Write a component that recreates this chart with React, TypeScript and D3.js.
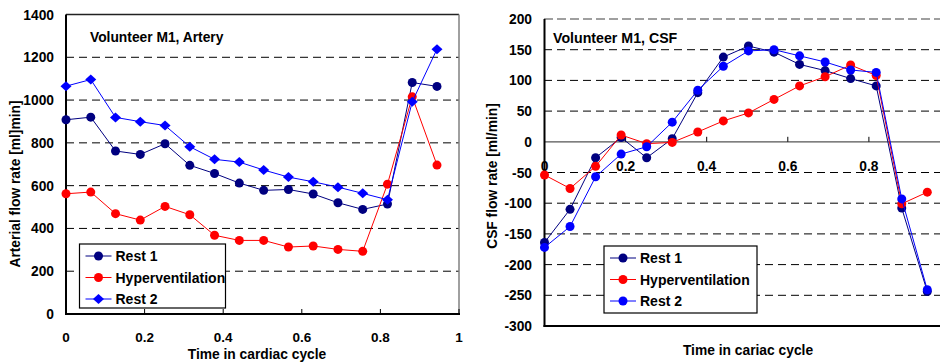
import React, { useEffect, useRef } from "react";
import * as d3 from "d3";

// time points (fraction of cardiac cycle), same for both panels
const timePoints = [0, 0.063, 0.126, 0.189, 0.252, 0.315, 0.378, 0.441, 0.503, 0.566, 0.629, 0.692, 0.755, 0.818, 0.881, 0.944];

const seriesNames = ["Rest 1", "Hyperventilation", "Rest 2"];

// arterial flow [ml/min]
const arteryRest1 = [908, 920, 762, 746, 796, 695, 657, 612, 578, 582, 561, 520, 489, 514, 1082, 1064];
const arteryHyper = [562, 570, 469, 439, 503, 464, 368, 344, 344, 313, 318, 302, 293, 607, 1015, 696];
const arteryRest2 = [1065, 1096, 919, 899, 881, 782, 723, 710, 673, 640, 618, 593, 564, 534, 992, 1238];

// CSF flow [ml/min]
const csfRest1 = [-164, -110, -26, 7, -26, 5, 80, 138, 156, 146, 126, 116, 103, 91, -108, -244];
const csfHyper = [-54, -76, -40, 11, -3, -1, 16, 34, 47, 69, 91, 106, 125, 108, -101, -82];
const csfRest2 = [-172, -138, -57, -20, -8, 32, 84, 123, 148, 150, 140, 130, 117, 113, -93, -241];

const arteryTicksY = [0, 200, 400, 600, 800, 1000, 1200, 1400];
const csfTicksY = [-300, -250, -200, -150, -100, -50, 0, 50, 100, 150, 200];
const ticksX = [0, 0.2, 0.4, 0.6, 0.8, 1];

const FONT = "Arial, 'Liberation Sans', sans-serif";
const colors = ["#000080", "#ff0000", "#0000ff"];

const App = () => {
  const ref = useRef<SVGSVGElement>(null);

  useEffect(() => {
    const svg = d3.select(ref.current);
    svg.selectAll("*").remove();

    const addMarker = (g, shape, x, y, color) => {
      if (shape === "diamond") {
        g.append("path")
          .attr("d", d3.symbol().type(d3.symbolDiamond2).size(64)())
          .attr("transform", `translate(${x},${y}) scale(1.1,1)`)
          .attr("fill", color);
      } else {
        g.append("circle").attr("cx", x).attr("cy", y).attr("r", 4.5).attr("fill", color);
      }
    };

    const drawSeries = (g, x, y, values, color, shape) => {
      const line = d3.line<number>().x((_, i) => x(timePoints[i])).y(d => y(d));
      g.append("path").attr("d", line(values)).attr("fill", "none").attr("stroke", color).attr("stroke-width", 1);
      values.forEach((v, i) => addMarker(g, shape, x(timePoints[i]), y(v), color));
    };

    const drawLegend = (g, left, top, w, h, shapes) => {
      g.append("rect").attr("x", left).attr("y", top).attr("width", w).attr("height", h)
        .attr("fill", "#fff").attr("stroke", "#000").attr("stroke-width", 1.2);
      seriesNames.forEach((name, i) => {
        const cy = top + 12 + i * 21.5;
        g.append("line").attr("x1", left + 6).attr("x2", left + 32).attr("y1", cy).attr("y2", cy)
          .attr("stroke", colors[i]).attr("stroke-width", 1);
        addMarker(g, shapes[i], left + 19, cy, colors[i]);
        g.append("text").attr("x", left + 36).attr("y", cy + 5).text(name)
          .attr("font-family", FONT).attr("font-weight", "bold").attr("font-size", 14);
      });
    };

    // ---------- Left panel: artery ----------
    {
      const g = svg.append("g");
      const x = d3.scaleLinear().domain([0, 1]).range([66, 459]);
      const y = d3.scaleLinear().domain([0, 1400]).range([314, 14.5]);

      arteryTicksY.slice(1, -1).forEach(t => {
        g.append("line").attr("x1", 66).attr("x2", 459).attr("y1", y(t)).attr("y2", y(t))
          .attr("stroke", "#000").attr("stroke-dasharray", "8,5").attr("stroke-width", 1);
      });
      g.append("line").attr("x1", 66).attr("x2", 459).attr("y1", y(1400)).attr("y2", y(1400)).attr("stroke", "#222").attr("stroke-width", 1.3);
      g.append("line").attr("x1", 459).attr("x2", 459).attr("y1", y(1400)).attr("y2", y(0)).attr("stroke", "#808080").attr("stroke-width", 1.5);
      g.append("line").attr("x1", 66).attr("x2", 66).attr("y1", y(1400)).attr("y2", y(0) + 1).attr("stroke", "#000").attr("stroke-width", 2);
      g.append("line").attr("x1", 65).attr("x2", 460).attr("y1", y(0)).attr("y2", y(0)).attr("stroke", "#000").attr("stroke-width", 2);

      ticksX.forEach(t => {
        g.append("line").attr("x1", x(t)).attr("x2", x(t)).attr("y1", y(0)).attr("y2", y(0) - 5).attr("stroke", "#000");
        g.append("text").attr("x", x(t)).attr("y", 342).attr("text-anchor", "middle").text(String(t))
          .attr("font-family", FONT).attr("font-weight", "bold").attr("font-size", 13.5);
      });
      arteryTicksY.forEach(t => {
        g.append("text").attr("x", 54).attr("y", y(t) + 5).attr("text-anchor", "end").text(String(t))
          .attr("font-family", FONT).attr("font-weight", "bold").attr("font-size", 13.8);
      });

      drawSeries(g, x, y, arteryRest1, colors[0], "circle");
      drawSeries(g, x, y, arteryHyper, colors[1], "circle");
      drawSeries(g, x, y, arteryRest2, colors[2], "diamond");

      g.append("text").attr("x", 90).attr("y", 42).text("Volunteer M1, Artery")
        .attr("font-family", FONT).attr("font-weight", "bold").attr("font-size", 13.8);
      g.append("text").attr("x", 257).attr("y", 358.5).attr("text-anchor", "middle").text("Time in cardiac cycle")
        .attr("font-family", FONT).attr("font-weight", "bold").attr("font-size", 13.8);
      g.append("text").attr("transform", "translate(20,184) rotate(-90)").attr("text-anchor", "middle")
        .text("Arterial flow rate [ml]min]")
        .attr("font-family", FONT).attr("font-weight", "bold").attr("font-size", 13.8);

      drawLegend(g, 79.5, 244, 146, 64, ["circle", "circle", "diamond"]);
    }

    // ---------- Right panel: CSF ----------
    {
      const g = svg.append("g");
      const x = d3.scaleLinear().domain([0, 1]).range([544.5, 950]);
      const y = d3.scaleLinear().domain([-300, 200]).range([326, 19]);

      csfTicksY.filter(t => t !== -300 && t !== 0 && t !== 200).forEach(t => {
        g.append("line").attr("x1", 544).attr("x2", 940).attr("y1", y(t)).attr("y2", y(t))
          .attr("stroke", "#000").attr("stroke-dasharray", "8,5").attr("stroke-width", 1);
      });
      g.append("line").attr("x1", 544).attr("x2", 940).attr("y1", y(200)).attr("y2", y(200))
        .attr("stroke", "#808080").attr("stroke-dasharray", "9,4").attr("stroke-width", 1.6);
      g.append("line").attr("x1", 544).attr("x2", 940).attr("y1", y(0)).attr("y2", y(0))
        .attr("stroke", "#555").attr("stroke-width", 1.3);
      g.append("line").attr("x1", 544.5).attr("x2", 544.5).attr("y1", y(200)).attr("y2", y(-300) + 1).attr("stroke", "#000").attr("stroke-width", 2);
      g.append("line").attr("x1", 543.5).attr("x2", 940).attr("y1", y(-300)).attr("y2", y(-300)).attr("stroke", "#000").attr("stroke-width", 2);

      ticksX.filter(t => x(t) < 940).forEach(t => {
        if (t > 0) g.append("line").attr("x1", x(t)).attr("x2", x(t)).attr("y1", y(0)).attr("y2", y(0) - 5).attr("stroke", "#000");
        g.append("text").attr("x", x(t)).attr("y", 171).attr("text-anchor", "middle").text(String(t))
          .attr("font-family", FONT).attr("font-weight", "bold").attr("font-size", 13.8);
      });
      csfTicksY.forEach(t => {
        g.append("text").attr("x", 532).attr("y", y(t) + 5).attr("text-anchor", "end").text(String(t))
          .attr("font-family", FONT).attr("font-weight", "bold").attr("font-size", 13.8);
      });

      drawSeries(g, x, y, csfRest1, colors[0], "circle");
      drawSeries(g, x, y, csfHyper, colors[1], "circle");
      drawSeries(g, x, y, csfRest2, colors[2], "circle");

      g.append("text").attr("x", 553).attr("y", 43).text("Volunteer M1, CSF")
        .attr("font-family", FONT).attr("font-weight", "bold").attr("font-size", 14.2);
      g.append("text").attr("x", 748).attr("y", 355).attr("text-anchor", "middle").text("Time in cariac cycle")
        .attr("font-family", FONT).attr("font-weight", "bold").attr("font-size", 13.8);
      g.append("text").attr("transform", "translate(497,176) rotate(-90)").attr("text-anchor", "middle")
        .text("CSF flow rate [ml/min]")
        .attr("font-family", FONT).attr("font-weight", "bold").attr("font-size", 13.8);

      drawLegend(g, 604, 246, 153, 67, ["circle", "circle", "circle"]);
    }
  }, []);

  return (
    <div style={{ position: "fixed", left: 0, top: 0, width: 940, height: 362, background: "#fff" }}>
      <svg ref={ref} width={940} height={362} style={{ display: "block" }}></svg>
    </div>
  );
};

export default App;
